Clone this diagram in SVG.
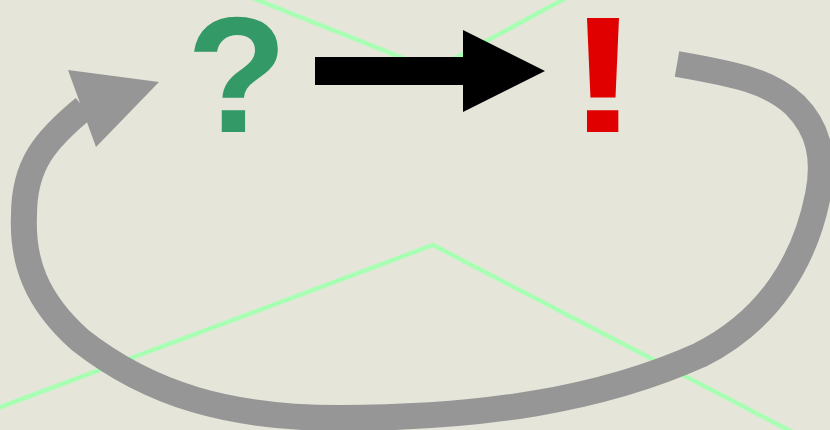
<svg xmlns="http://www.w3.org/2000/svg" width="830" height="430" viewBox="0 0 830 430">
<style>
.bg{fill:#e5e5da}
.guide{fill:none;stroke:#a8ffb4;stroke-width:4.5}
.sym{font-family:"Liberation Sans",Arial,sans-serif;font-weight:bold;font-size:165px;text-anchor:middle}
.loop{fill:none;stroke:#969696;stroke-width:26}
</style>
<rect class="bg" x="0" y="0" width="830" height="430"/>
<g id="guides">
<polyline class="guide" points="220,-15 433,70 590,-15"/>
<polyline class="guide" points="-10,411 433,245 800,436"/>
</g>
<g id="question"><text class="sym" x="237" y="132" fill="#339966">?</text></g>
<g id="exclaim"><text class="sym" transform="translate(603,132) scale(1.35,1)" x="0" y="0" fill="#e00000">!</text></g>
<g id="connectors">
<g id="arrow-main">
<rect x="315" y="57" width="150" height="28" fill="#000"/>
<polygon points="463,30 545,71 463,112" fill="#000"/>
</g>
<g id="arrow-loop">
<path class="loop" d="M677,64 C740,75 770,82 795,105 C820,130 825,160 818,195 C805,260 770,320 700,355 C600,400 480,418 340,418 C230,418 150,395 80,340 C35,300 22,260 24,215 C24,165 45,140 84,108"/>
<polygon points="68,70 159,82 96,147" fill="#969696"/>
</g>
</g>
</svg>
